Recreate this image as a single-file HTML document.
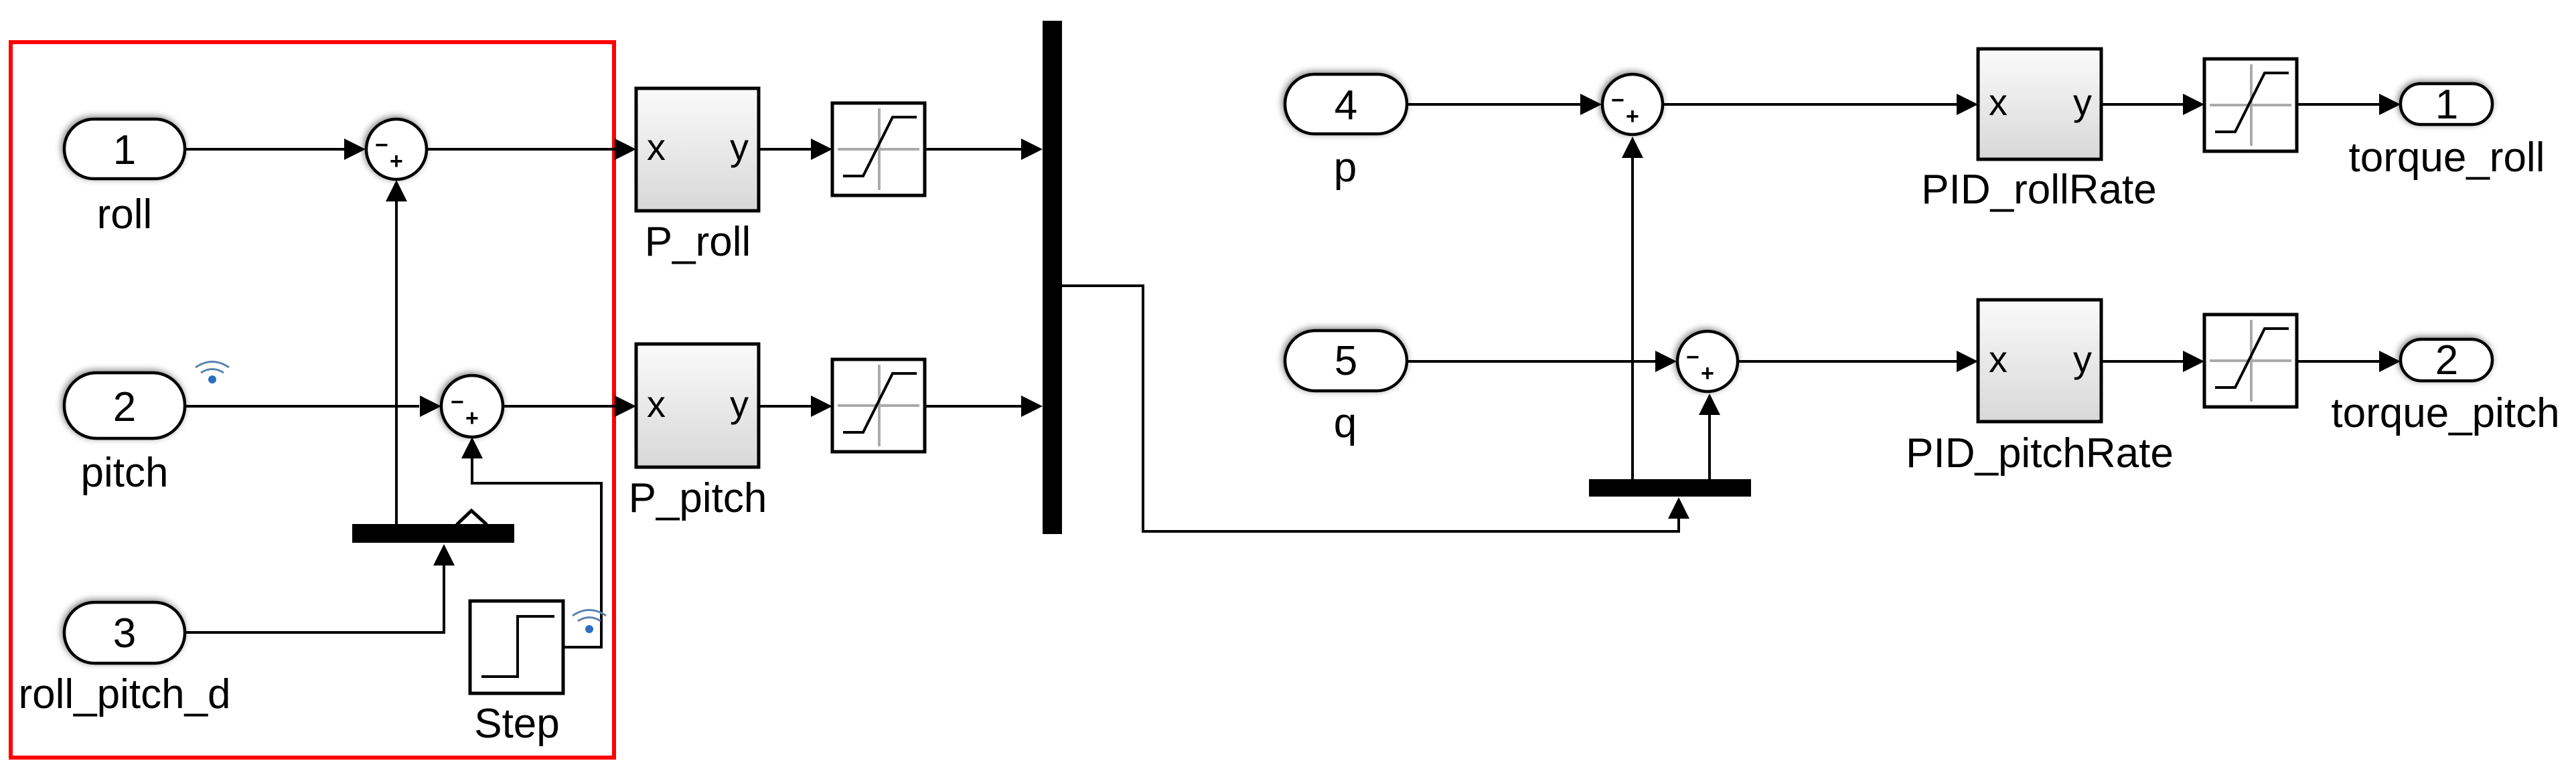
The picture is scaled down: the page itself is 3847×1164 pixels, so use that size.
<!DOCTYPE html>
<html><head><meta charset="utf-8"><style>
html,body{margin:0;padding:0;background:#fff;}
svg{display:block}
text{font-family:"Liberation Sans",Arial,sans-serif;fill:#000}
</style></head><body>
<svg width="3847" height="1164" viewBox="0 0 3847 1164" xmlns="http://www.w3.org/2000/svg">
<defs>
<linearGradient id="g" x1="0" y1="0" x2="0" y2="1"><stop offset="0" stop-color="#fafafa"/><stop offset="1" stop-color="#d8d8d8"/></linearGradient>
<filter id="sh" x="-20%" y="-20%" width="140%" height="140%"><feGaussianBlur in="SourceAlpha" stdDeviation="5"/><feOffset dx="-2" dy="-2"/><feComponentTransfer><feFuncA type="linear" slope="0.5"/></feComponentTransfer><feMerge><feMergeNode/><feMergeNode in="SourceGraphic"/></feMerge></filter>
<g id="sat"><rect x="0" y="0" width="138" height="138" fill="#fff" stroke="#000" stroke-width="5"/>
<line x1="8" y1="69" x2="130" y2="69" stroke="#aaa" stroke-width="4"/><line x1="70" y1="8" x2="70" y2="130" stroke="#aaa" stroke-width="4"/>
<polyline points="16,109 46,109 90,21 126,21" fill="none" stroke="#000" stroke-width="4"/></g>
</defs>

<!-- red box -->
<rect x="16" y="63" width="901" height="1069" fill="none" stroke="#f00" stroke-width="6"/>

<g stroke="#000" stroke-width="4" fill="none">
<!-- left group lines -->
<line x1="276" y1="223" x2="520" y2="223"/>
<line x1="638" y1="223" x2="918" y2="223"/>
<line x1="592" y1="783" x2="592" y2="300"/>
<line x1="276" y1="607" x2="626" y2="607"/>
<line x1="751" y1="607" x2="918" y2="607"/>
<polyline points="276,945 663,945 663,840"/>
<polyline points="841,967 898,967 898,722 705,722 705,685"/>
<line x1="1133" y1="223" x2="1212" y2="223"/>
<line x1="1133" y1="607" x2="1212" y2="607"/>
<line x1="1381" y1="223" x2="1526" y2="223"/>
<line x1="1381" y1="607" x2="1526" y2="607"/>
<polyline points="1586,427 1707,427 1707,794 2507,794 2507,775"/>
<!-- right group -->
<line x1="2101" y1="156" x2="2360" y2="156"/>
<line x1="2484" y1="156" x2="2922" y2="156"/>
<line x1="2101" y1="540" x2="2472" y2="540"/>
<line x1="2596" y1="540" x2="2922" y2="540"/>
<line x1="2438" y1="716" x2="2438" y2="235"/>
<line x1="2553" y1="716" x2="2553" y2="619"/>
<line x1="3138" y1="156" x2="3260" y2="156"/>
<line x1="3138" y1="540" x2="3260" y2="540"/>
<line x1="3429" y1="156" x2="3553" y2="156"/>
<line x1="3429" y1="540" x2="3553" y2="540"/>
</g>

<!-- arrowheads -->
<g fill="#000">
<polygon points="514,207 546,223 514,239"/>
<polygon points="576,301 592,269 608,301"/>
<polygon points="627,591 659,607 627,623"/>
<polygon points="689,685 705,653 721,685"/>
<polygon points="647,845 663,813 679,845"/>
<polygon points="918,207 950,223 918,239"/>
<polygon points="918,591 950,607 918,623"/>
<polygon points="1211,207 1243,223 1211,239"/>
<polygon points="1211,591 1243,607 1211,623"/>
<polygon points="1525,207 1557,223 1525,239"/>
<polygon points="1525,591 1557,607 1525,623"/>
<polygon points="2360,140 2392,156 2360,172"/>
<polygon points="2422,236 2438,204 2454,236"/>
<polygon points="2472,524 2504,540 2472,556"/>
<polygon points="2537,620 2553,588 2569,620"/>
<polygon points="2491,775 2507,743 2523,775"/>
<polygon points="2922,140 2954,156 2922,172"/>
<polygon points="2922,524 2954,540 2922,556"/>
<polygon points="3260,140 3292,156 3260,172"/>
<polygon points="3260,524 3292,540 3260,556"/>
<polygon points="3553,140 3585,156 3553,172"/>
<polygon points="3553,524 3585,540 3553,556"/>
</g>

<!-- buses -->
<rect x="526" y="783" width="242" height="28" fill="#000"/>
<polyline points="682,784 704,763 727,784" fill="none" stroke="#000" stroke-width="5"/>
<rect x="1557" y="31" width="29" height="767" fill="#000"/>
<rect x="2373" y="716" width="242" height="26" fill="#000"/>

<!-- inports -->
<g stroke="#000" stroke-width="4.5" fill="#fff" filter="url(#sh)">
<rect x="96" y="178" width="180" height="89" rx="44"/>
<rect x="96" y="557" width="180" height="98" rx="48"/>
<rect x="96" y="900" width="180" height="91" rx="45"/>
<rect x="1919" y="111" width="182" height="89" rx="44"/>
<rect x="1919" y="494" width="182" height="90" rx="45"/>
<rect x="3585" y="125" width="137" height="61" rx="30"/>
<rect x="3585" y="507" width="137" height="62" rx="31"/>
<ellipse cx="592" cy="223" rx="45" ry="45"/>
<ellipse cx="705" cy="607" rx="46" ry="46"/>
<ellipse cx="2438" cy="156" rx="45" ry="45"/>
<ellipse cx="2550" cy="540" rx="45" ry="45"/>
</g>
<g stroke="#000" stroke-width="5" fill="url(#g)">
<rect x="950" y="132" width="183" height="183"/>
<rect x="950" y="514" width="183" height="184"/>
<rect x="2954" y="73" width="184" height="165"/>
<rect x="2954" y="448" width="184" height="182"/>
</g>
<use href="#sat" x="1243" y="154"/>
<use href="#sat" x="1243" y="537"/>
<use href="#sat" x="3292" y="88"/>
<use href="#sat" x="3292" y="470"/>

<!-- step -->
<rect x="702" y="898" width="139" height="138" fill="#fff" stroke="#000" stroke-width="5"/>
<polyline points="719,1011 773,1011 773,921 828,921" fill="none" stroke="#000" stroke-width="4"/>

<!-- signal icons -->
<g fill="none" stroke="#5a84b0" stroke-width="3">
<path d="M292,549 Q317,532 342,549"/><path d="M300,557 Q317,546 334,557"/>
<path d="M855,920 Q880,903 905,920"/><path d="M863,928 Q880,917 897,928"/>
</g>
<circle cx="317" cy="567" r="6" fill="#2a6fc0"/>
<circle cx="880" cy="940" r="6" fill="#2a6fc0"/>

<!-- sum signs -->
<g font-size="34" font-weight="bold">
<text x="560" y="228">−</text><text x="582" y="252">+</text>
<text x="673" y="612">−</text><text x="695" y="636">+</text>
<text x="2406" y="161">−</text><text x="2428" y="185">+</text>
<text x="2518" y="545">−</text><text x="2540" y="569">+</text>
</g>

<!-- port numbers -->
<g font-size="62" text-anchor="middle">
<text x="186" y="245">1</text>
<text x="186" y="629">2</text>
<text x="186" y="967">3</text>
<text x="2010" y="178">4</text>
<text x="2010" y="560">5</text>
<text x="3654" y="177">1</text>
<text x="3654" y="559">2</text>
</g>
<g font-size="56">
<text x="966" y="239">x</text><text x="1090" y="239">y</text>
<text x="966" y="623">x</text><text x="1090" y="623">y</text>
<text x="2970" y="172">x</text><text x="3096" y="172">y</text>
<text x="2970" y="556">x</text><text x="3096" y="556">y</text>
</g>
<!-- labels -->
<g font-size="62" text-anchor="middle">
<text x="186" y="341">roll</text>
<text x="186" y="727">pitch</text>
<text x="186" y="1058">roll_pitch_d</text>
<text x="772" y="1102">Step</text>
<text x="1042" y="382">P_roll</text>
<text x="1042" y="765">P_pitch</text>
<text x="2009" y="271">p</text>
<text x="2009" y="653">q</text>
<text x="3045" y="304">PID_rollRate</text>
<text x="3046" y="698">PID_pitchRate</text>
<text x="3654" y="256">torque_roll</text>
<text x="3652" y="638">torque_pitch</text>
</g>
</svg>
</body></html>
